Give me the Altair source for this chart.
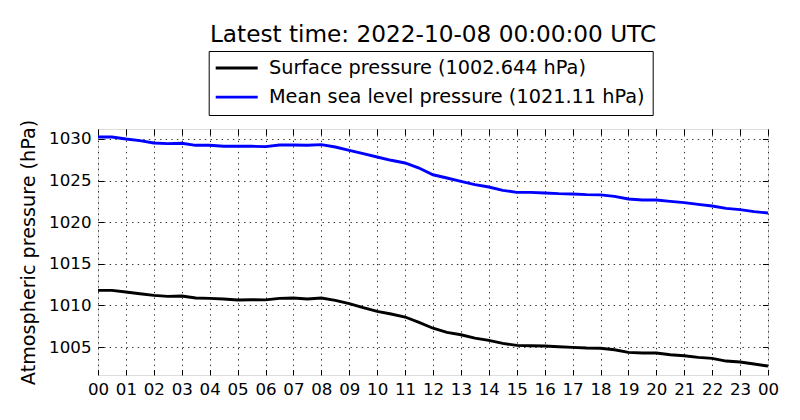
import altair as alt
import pandas as pd

# ---- data ----
hours = [0, 0.5, 1, 1.5, 2, 2.5, 3, 3.5, 4, 4.5, 5, 5.5, 6, 6.5, 7, 7.5, 8, 8.5,
         9, 9.5, 10, 10.5, 11, 11.5, 12, 12.5, 13, 13.5, 14, 14.5, 15, 15.5, 16,
         16.5, 17, 17.5, 18, 18.5, 19, 19.5, 20, 20.5, 21, 21.5, 22, 22.5, 23,
         23.5, 24]

surface_pressure = [1011.81, 1011.81, 1011.61, 1011.41, 1011.21, 1011.09, 1011.13,
                    1010.89, 1010.85, 1010.77, 1010.65, 1010.69, 1010.67, 1010.85,
                    1010.89, 1010.77, 1010.89, 1010.61, 1010.21, 1009.73, 1009.29,
                    1008.97, 1008.61, 1007.96, 1007.26, 1006.76, 1006.48, 1006.08,
                    1005.80, 1005.44, 1005.20, 1005.16, 1005.12, 1005.04, 1004.96,
                    1004.88, 1004.86, 1004.68, 1004.36, 1004.28, 1004.28, 1004.08,
                    1003.96, 1003.76, 1003.64, 1003.32, 1003.20, 1002.96, 1002.72]

msl_pressure = [1030.24, 1030.24, 1030.00, 1029.80, 1029.52, 1029.44, 1029.48,
                1029.24, 1029.24, 1029.12, 1029.12, 1029.12, 1029.08, 1029.28,
                1029.28, 1029.24, 1029.32, 1029.04, 1028.64, 1028.24, 1027.84,
                1027.44, 1027.12, 1026.51, 1025.70, 1025.31, 1024.91, 1024.51,
                1024.23, 1023.83, 1023.59, 1023.59, 1023.51, 1023.43, 1023.39,
                1023.31, 1023.29, 1023.11, 1022.79, 1022.67, 1022.67, 1022.51,
                1022.35, 1022.15, 1021.95, 1021.67, 1021.51, 1021.27, 1021.11]

series_names = ["Surface pressure (1002.644 hPa)",
                "Mean sea level pressure (1021.11 hPa)"]
series_colors = ["#000000", "#0000ff"]

x_tick_values = [0, 1, 2, 3, 4, 5, 6, 7, 8, 9, 10, 11, 12, 13, 14, 15, 16, 17,
                 18, 19, 20, 21, 22, 23, 24]
y_tick_values = [1005, 1010, 1015, 1020, 1025, 1030]
y_domain = [1001.644, 1031.2]

title_text = "Latest time: 2022-10-08 00:00:00 UTC"
y_title = "Atmospheric pressure (hPa)"

rows = []
for h, v in zip(hours, surface_pressure):
    rows.append({"hour": h, "pressure": v, "series": series_names[0]})
for h, v in zip(hours, msl_pressure):
    rows.append({"hour": h, "pressure": v, "series": series_names[1]})
df = pd.DataFrame(rows)

FONT = "DejaVu Sans"
FS_TICK = 16.67
FS_LEGEND = 19.3
FS_YTITLE = 19.2
FS_TITLE = 23.2
W, H = 670, 246

x_scale = alt.Scale(domain=[0, 24], nice=False, zero=False)
y_scale = alt.Scale(domain=y_domain, nice=False, zero=False)
label_expr = "(datum.value % 24 < 10 ? '0' : '') + (datum.value % 24)"

main = alt.Chart(df).mark_line(strokeWidth=2.9, clip=True).encode(
    x=alt.X("hour:Q", scale=x_scale,
            axis=alt.Axis(values=x_tick_values, labelExpr=label_expr, title=None,
                          ticks=False, domain=False, grid=True,
                          labelFont=FONT, labelFontSize=FS_TICK, labelColor="black",
                          labelPadding=6, labelFlush=False, labelOverlap=False,
                          gridColor="black", gridDash=[1.4, 4.2], gridWidth=0.8,
                          gridOpacity=1)),
    y=alt.Y("pressure:Q", scale=y_scale,
            axis=alt.Axis(values=y_tick_values, format="d", title=y_title,
                          ticks=False, domain=False, grid=True, labelFont=FONT,
                          labelFontSize=FS_TICK, labelColor="black", labelPadding=7,
                          labelFlush=False, titleFont=FONT, titleFontSize=FS_YTITLE,
                          titleFontWeight="normal", titleColor="black",
                          titlePadding=10,
                          gridColor="black", gridDash=[1.4, 4.2], gridWidth=0.8,
                          gridOpacity=1)),
    color=alt.Color("series:N",
                    scale=alt.Scale(domain=series_names, range=series_colors),
                    legend=alt.Legend(title=None, orient="none", legendX=110.7,
                                      legendY=-78, direction="vertical",
                                      symbolType="M-4,0H4", symbolSize=110.25,
                                      symbolStrokeWidth=2.8, symbolOffset=11,
                                      labelFont=FONT, labelFontSize=FS_LEGEND,
                                      labelColor="black", labelOffset=22.6,
                                      labelLimit=1000, padding=7.35,
                                      rowPadding=9.1, strokeColor="black",
                                      fillColor="white", cornerRadius=0)),
)


def tick_layer(x_orient, y_orient):
    tick_axis = dict(labels=False, domain=False, grid=False, ticks=True,
                     tickSize=5.5, tickColor="black", tickWidth=1, title=None)
    return alt.Chart(df).mark_line(opacity=0).encode(
        x=alt.X("hour:Q", scale=x_scale,
                axis=alt.Axis(orient=x_orient, offset=-H, values=x_tick_values,
                              **tick_axis)),
        y=alt.Y("pressure:Q", scale=y_scale,
                axis=alt.Axis(orient=y_orient, offset=-W, values=y_tick_values,
                              **tick_axis)),
        detail="series:N",
    )


chart = alt.layer(
    main, tick_layer("top", "right"), tick_layer("bottom", "left")
).resolve_axis(
    x="independent", y="independent"
).properties(
    width=W, height=H,
    title=alt.Title(title_text, font=FONT, fontSize=FS_TITLE, fontWeight="normal",
                    color="black", anchor="middle", frame="group",
                    baseline="alphabetic", offset=-15),
    autosize=alt.AutoSizeParams(type="none"),
    padding={"left": 90, "top": 121, "right": 22, "bottom": 30},
).configure_view(
    stroke="black", strokeWidth=1.3
).configure(
    font=FONT, background="white"
)

chart.save("out.html", embed_options={"renderer": "svg", "actions": False})
